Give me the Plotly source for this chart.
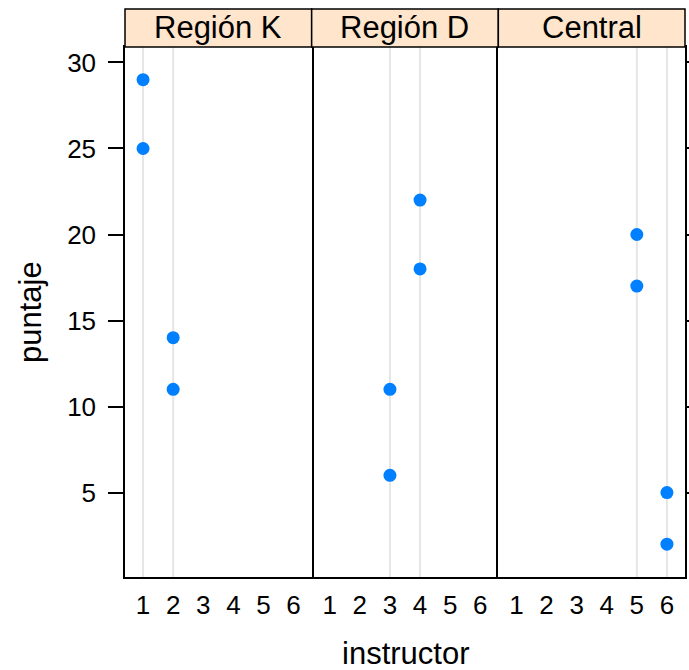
import plotly.graph_objects as go

regions = ["Región K", "Región D", "Central"]
instructor_k = [1, 1, 2, 2]
puntaje_k = [29, 25, 14, 11]
instructor_d = [3, 3, 4, 4]
puntaje_d = [11, 6, 22, 18]
instructor_c = [5, 5, 6, 6]
puntaje_c = [20, 17, 5, 2]
x_ticks = [1, 2, 3, 4, 5, 6]
y_ticks = [5, 10, 15, 20, 25, 30]

panels = [(instructor_k, puntaje_k), (instructor_d, puntaje_d), (instructor_c, puntaje_c)]

W, H = 689, 670
ML, MR, MT, MB = 125, 4, 47, 93
PW = W - ML - MR
PH = H - MT - MB
STRIP_H = 38

FONT = "Liberation Sans, Arial, Helvetica, sans-serif"
DOT = "#0080ff"
GRID = "#e6e6e6"
STRIP_FILL = "#ffe5cc"

fig = go.Figure()
shapes = []
annotations = []

for i, (xs, ys) in enumerate(panels):
    xa = "x" if i == 0 else f"x{i+1}"
    ya = "y" if i == 0 else f"y{i+1}"
    for v in sorted(set(xs)):
        shapes.append(dict(type="line", xref=xa, yref=f"{ya} domain", x0=v, x1=v, y0=0, y1=1,
                           line=dict(color=GRID, width=2), layer="below"))
    fig.add_trace(go.Scatter(x=xs, y=ys, mode="markers", xaxis=xa, yaxis=ya,
                             marker=dict(color=DOT, size=13), showlegend=False,
                             hoverinfo="x+y"))
    shapes.append(dict(type="rect", xref=f"{xa} domain", yref="paper", x0=0, x1=1,
                       y0=1, y1=1 + STRIP_H / PH, fillcolor=STRIP_FILL,
                       line=dict(color="black", width=1.5), layer="above"))
    annotations.append(dict(text=regions[i], xref=f"{xa} domain", yref="paper", x=0.5,
                            y=1 + (STRIP_H / 2) / PH, xanchor="center", yanchor="middle",
                            showarrow=False, font=dict(family=FONT, size=31, color="black")))

xcommon = dict(range=[0.4, 6.6], tickmode="array", tickvals=x_ticks, ticktext=[str(t) for t in x_ticks],
               showgrid=False, zeroline=False, showline=True, linecolor="black", linewidth=1.5,
               mirror=True, ticks="", tickfont=dict(family=FONT, size=26, color="black"),
               ticklabelstandoff=4, fixedrange=True, automargin=False)
ycommon = dict(range=[0.09, 30.9], tickmode="array", tickvals=y_ticks,
               showgrid=False, zeroline=False, linecolor="black", linewidth=1.5,
               mirror=True, fixedrange=True, automargin=False)

layout = dict(
    width=W, height=H,
    margin=dict(l=ML, r=MR, t=MT, b=MB, pad=0, autoexpand=False),
    paper_bgcolor="white", plot_bgcolor="white",
    font=dict(family=FONT, color="black"),
    xaxis=dict(domain=[0, 1/3], anchor="y", **xcommon),
    xaxis2=dict(domain=[1/3, 2/3], anchor="y2", **xcommon),
    xaxis3=dict(domain=[2/3, 1], anchor="y3", **xcommon),
    yaxis=dict(anchor="x", showline=True, ticks="outside", ticklen=15, tickwidth=1.5, tickcolor="black",
               tickfont=dict(family=FONT, size=26, color="black"), ticklabelstandoff=7,
               **ycommon),
    yaxis2=dict(anchor="x2", matches="y", showline=False, ticks="", showticklabels=False, **ycommon),
    yaxis3=dict(anchor="x3", matches="y", side="right", showline=True, ticks="outside", ticklen=15,
                tickwidth=1.5, tickcolor="black", showticklabels=False, **ycommon),
    shapes=shapes,
)

annotations.append(dict(text="puntaje", xref="paper", yref="paper", x=(30 - ML) / PW, y=0.5,
                        xanchor="center", yanchor="middle", textangle=-90, showarrow=False,
                        font=dict(family=FONT, size=31, color="black")))
annotations.append(dict(text="instructor", xref="paper", yref="paper", x=0.5, y=-(653 - (H - MB)) / PH,
                        xanchor="center", yanchor="middle", showarrow=False,
                        font=dict(family=FONT, size=31, color="black")))
layout["annotations"] = annotations

fig.update_layout(**layout)
fig.write_html("out.html")
